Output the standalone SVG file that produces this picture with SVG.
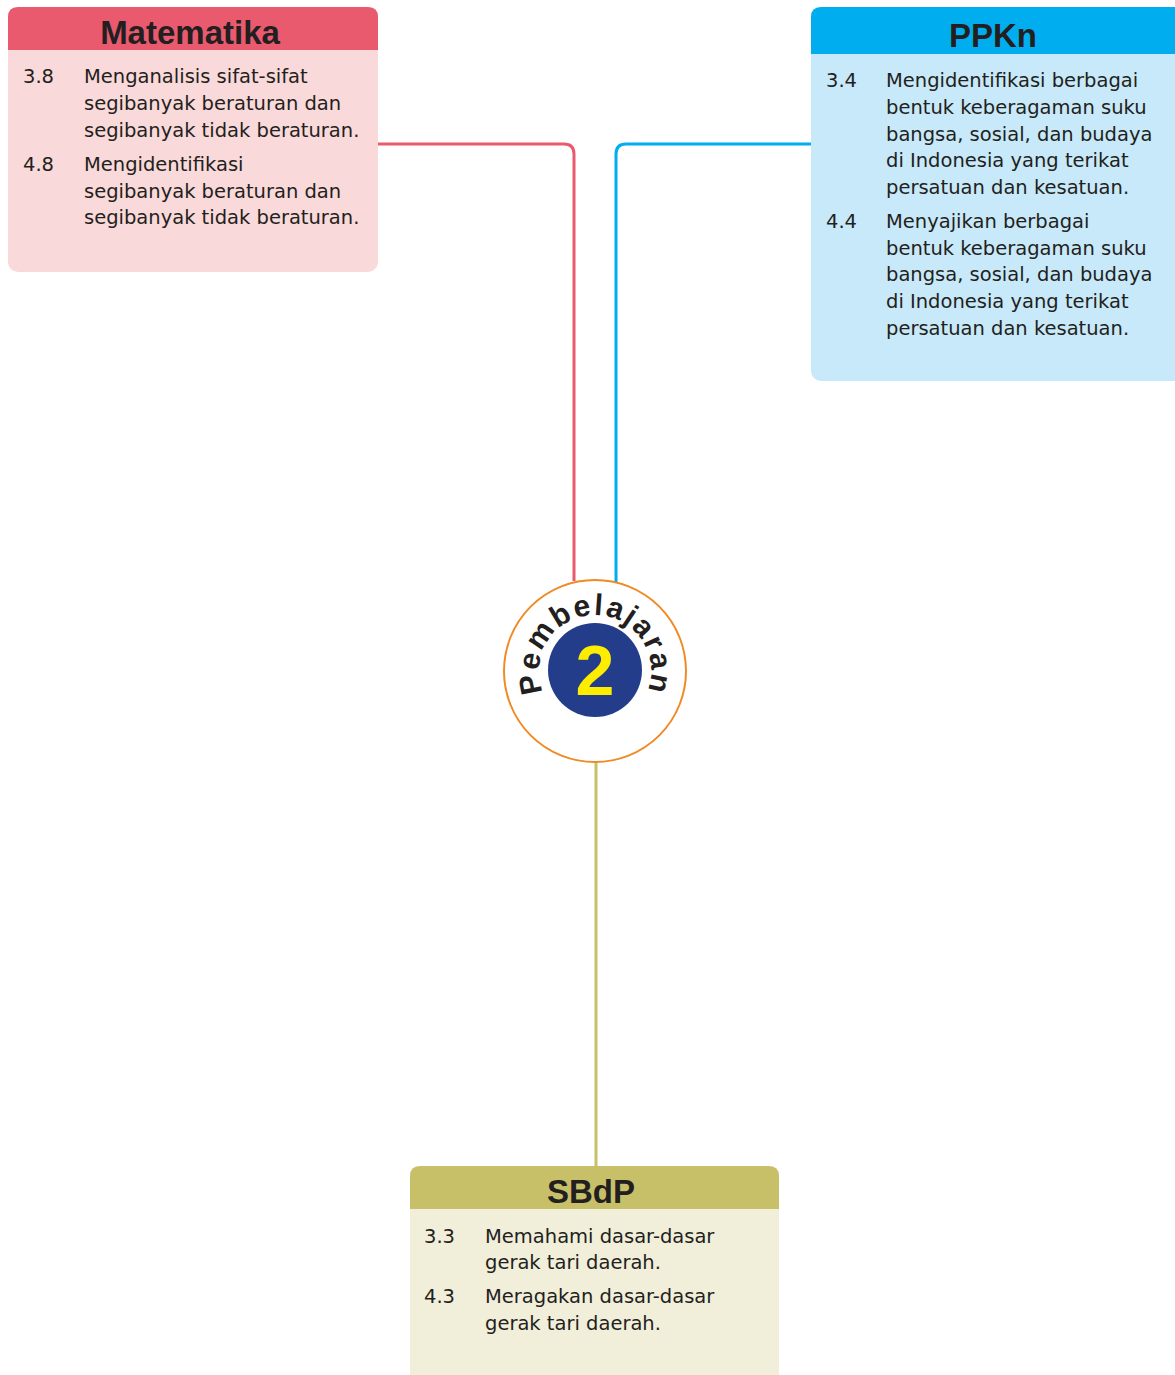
<svg xmlns="http://www.w3.org/2000/svg" xmlns:xlink="http://www.w3.org/1999/xlink" width="1175" height="1375" viewBox="0 0 1175 1375">
<style>
.title{font-family:"Liberation Sans",Arial,sans-serif;font-weight:bold;font-size:33px;fill:#231F20;text-anchor:middle}
.body{font-family:"DejaVu Sans","Liberation Sans",sans-serif;font-size:19.5px;fill:#231F20}
.conn{fill:none;stroke-width:3}
</style>
<defs>
<path id="arc" d="M555.4,710.6 A56,56 0 1 1 634.6,710.6"/>
</defs>
<rect width="1175" height="1375" fill="#ffffff"/>
<g id="connectors">
<path class="conn" stroke="#E95A6F" d="M378,144 H564 Q574,144 574,154 V581"/>
<path class="conn" stroke="#00AEEF" d="M811,144 H626 Q616,144 616,154 V582"/>
<path class="conn" stroke="#C8C069" d="M596,761 V1166"/>
</g>
<g id="matematika">
<rect x="8" y="7" width="370" height="265" rx="10" fill="#F9D9D9"/>
<path d="M8,50 V17 Q8,7 18,7 H368 Q378,7 378,17 V50 Z" fill="#E95A6F"/>
<text class="title" x="190" y="44">Matematika</text>
<text class="body" x="23" y="83">3.8</text>
<text class="body" x="84" y="83">Menganalisis sifat-sifat</text>
<text class="body" x="84" y="110">segibanyak beraturan dan</text>
<text class="body" x="84" y="137">segibanyak tidak beraturan.</text>
<text class="body" x="23" y="171">4.8</text>
<text class="body" x="84" y="171">Mengidentifikasi</text>
<text class="body" x="84" y="198">segibanyak beraturan dan</text>
<text class="body" x="84" y="224">segibanyak tidak beraturan.</text>
</g>
<g id="ppkn">
<rect x="811" y="7" width="374" height="374" rx="10" fill="#C7E9F9"/>
<path d="M811,54 V17 Q811,7 821,7 H1185 V54 Z" fill="#00AEEF"/>
<text class="title" x="993" y="47">PPKn</text>
<text class="body" x="826" y="87">3.4</text>
<text class="body" x="886" y="87">Mengidentifikasi berbagai</text>
<text class="body" x="886" y="114">bentuk keberagaman suku</text>
<text class="body" x="886" y="141">bangsa, sosial, dan budaya</text>
<text class="body" x="886" y="167">di Indonesia yang terikat</text>
<text class="body" x="886" y="194">persatuan dan kesatuan.</text>
<text class="body" x="826" y="228">4.4</text>
<text class="body" x="886" y="228">Menyajikan berbagai</text>
<text class="body" x="886" y="255">bentuk keberagaman suku</text>
<text class="body" x="886" y="281">bangsa, sosial, dan budaya</text>
<text class="body" x="886" y="308">di Indonesia yang terikat</text>
<text class="body" x="886" y="335">persatuan dan kesatuan.</text>
</g>
<g id="sbdp">
<rect x="410" y="1166" width="369" height="230" rx="10" fill="#F1EEDA"/>
<path d="M410,1209 V1176 Q410,1166 420,1166 H769 Q779,1166 779,1176 V1209 Z" fill="#C8C069"/>
<text class="title" x="591" y="1203">SBdP</text>
<text class="body" x="424" y="1243">3.3</text>
<text class="body" x="485" y="1243">Memahami dasar-dasar</text>
<text class="body" x="485" y="1269">gerak tari daerah.</text>
<text class="body" x="424" y="1303">4.3</text>
<text class="body" x="485" y="1303">Meragakan dasar-dasar</text>
<text class="body" x="485" y="1330">gerak tari daerah.</text>
</g>
<g id="pembelajaran">
<circle cx="595" cy="671" r="91" fill="#ffffff" stroke="#F08A24" stroke-width="2"/>
<circle cx="595" cy="670" r="47" fill="#243D8B"/>
<text x="595" y="695" font-family="Liberation Sans,Arial,sans-serif" font-weight="bold" font-size="70" fill="#FFED00" text-anchor="middle">2</text>
<text font-family="Liberation Sans,Arial,sans-serif" font-weight="bold" font-size="30" fill="#231F20" letter-spacing="2"><textPath xlink:href="#arc" href="#arc" startOffset="50%" text-anchor="middle">Pembelajaran</textPath></text>
</g>
</svg>
